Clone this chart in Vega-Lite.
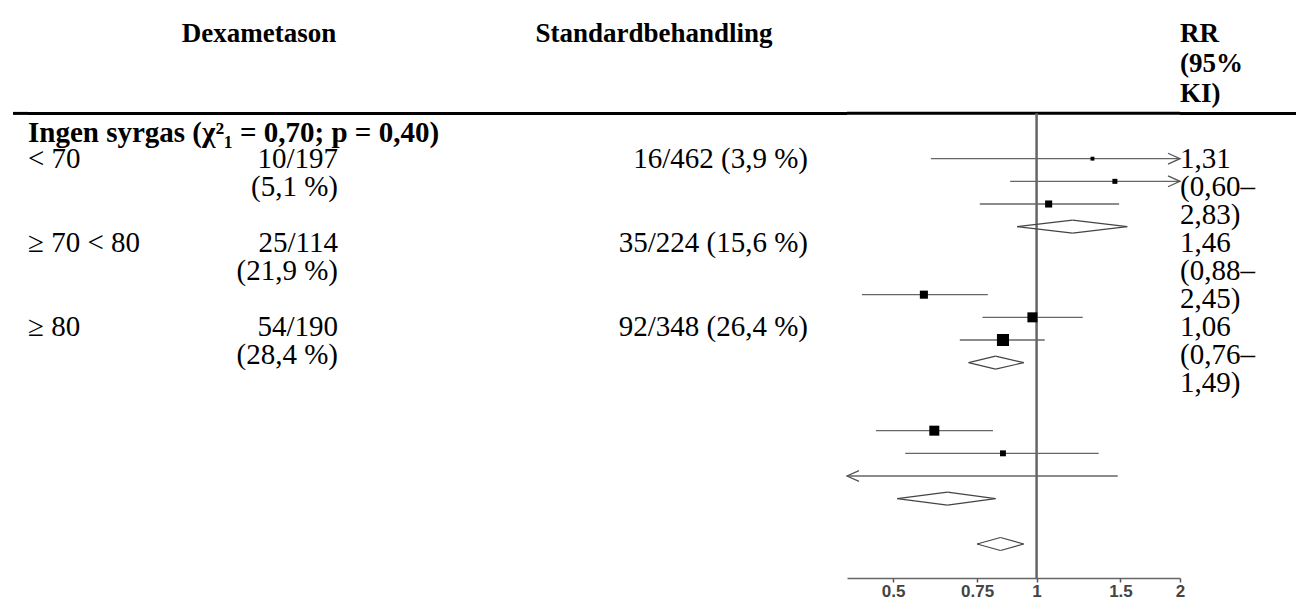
{
  "$schema": "https://vega.github.io/schema/vega-lite/v6.json",
  "padding": {"left": 11, "top": 0, "right": 0, "bottom": 0},
  "bounds": "flush",
  "spacing": 0,
  "config": {
    "view": {"stroke": null},
    "axisY": {"disable": true},
    "axis": {"labelFont": "Liberation Sans", "labelFontSize": 17, "labelFontWeight": "bold", "labelColor": "#444"},
    "text": {"font": "Liberation Serif", "fontSize": 29, "color": "#000", "lineHeight": 28, "baseline": "alphabetic"}
  },
  "datasets": {
    "rule": [{"item": "header rule"}],
    "header": [
      {"col": "dex", "text": "Dexametason"},
      {"col": "std", "text": "Standardbehandling"},
      {"col": "rr", "text": "RR\n(95%\nKI)"}
    ],
    "groups": [{"text": "Ingen syrgas (χ²₁ = 0,70; p = 0,40)", "line": -0.92}],
    "rows": [
      {"line": 0, "age": "< 70", "dex": "10/197\n(5,1 %)", "std": "16/462 (3,9 %)", "rr": "1,31\n(0,60–\n2,83)"},
      {"line": 3, "age": "≥ 70 < 80", "dex": "25/114\n(21,9 %)", "std": "35/224 (15,6 %)", "rr": "1,46\n(0,88–\n2,45)"},
      {"line": 6, "age": "≥ 80", "dex": "54/190\n(28,4 %)", "std": "92/348 (26,4 %)", "rr": "1,06\n(0,76–\n1,49)"}
    ],
    "forest": [
      {"row": 1, "type": "study", "est": 1.31, "lo": 0.60, "hi": 2.83, "w": 3},
      {"row": 2, "type": "study", "est": 1.46, "lo": 0.88, "hi": 2.45, "w": 5},
      {"row": 3, "type": "study", "est": 1.06, "lo": 0.76, "hi": 1.49, "w": 10},
      {"row": 4, "type": "diamond", "est": 1.19, "lo": 0.91, "hi": 1.55},
      {"row": 7, "type": "study", "est": 0.58, "lo": 0.43, "hi": 0.79, "w": 13},
      {"row": 8, "type": "study", "est": 0.98, "lo": 0.77, "hi": 1.25, "w": 20},
      {"row": 9, "type": "study", "est": 0.85, "lo": 0.69, "hi": 1.04, "w": 29},
      {"row": 10, "type": "diamond", "est": 0.82, "lo": 0.72, "hi": 0.94},
      {"row": 13, "type": "study", "est": 0.61, "lo": 0.46, "hi": 0.81, "w": 20},
      {"row": 14, "type": "study", "est": 0.85, "lo": 0.53, "hi": 1.35, "w": 7},
      {"row": 15, "type": "study", "est": 0.30, "lo": 0.10, "hi": 1.48, "w": 2},
      {"row": 16, "type": "diamond", "est": 0.65, "lo": 0.51, "hi": 0.82},
      {"row": 18, "type": "diamond", "est": 0.84, "lo": 0.75, "hi": 0.94}
    ]
  },
  "hconcat": [
    {
      "width": 15, "height": 602,
      "data": {"name": "rule"},
      "mark": {"type": "rule", "strokeWidth": 3, "color": "#000"},
      "encoding": {"y": {"datum": -1.95, "type": "quantitative", "scale": {"domain": [-6, 15.5], "reverse": true, "nice": false, "zero": false}}}
    },
    {
      "width": 152, "height": 602,
      "layer": [
        {
          "data": {"name": "rule"},
          "mark": {"type": "rule", "strokeWidth": 3, "color": "#000"},
          "encoding": {"y": {"datum": -1.95, "type": "quantitative", "scale": {"domain": [-6, 15.5], "reverse": true, "nice": false, "zero": false}}}
        },
        {
          "data": {"name": "groups"},
          "mark": {"type": "text", "align": "left", "fontWeight": "bold"},
          "encoding": {
            "x": {"value": 0},
            "y": {"field": "line", "type": "quantitative", "scale": {"domain": [-6, 15.5], "reverse": true, "nice": false, "zero": false}},
            "text": {"field": "text"}
          }
        },
        {
          "data": {"name": "rows"},
          "mark": {"type": "text", "align": "left"},
          "encoding": {
            "x": {"value": 0},
            "y": {"field": "line", "type": "quantitative", "scale": {"domain": [-6, 15.5], "reverse": true, "nice": false, "zero": false}},
            "text": {"field": "age"}
          }
        }
      ]
    },
    {
      "width": 158, "height": 602,
      "layer": [
        {
          "data": {"name": "rule"},
          "mark": {"type": "rule", "strokeWidth": 3, "color": "#000"},
          "encoding": {"y": {"datum": -1.95, "type": "quantitative", "scale": {"domain": [-6, 15.5], "reverse": true, "nice": false, "zero": false}}}
        },
        {
          "data": {"name": "header"},
          "transform": [{"filter": "datum.col === 'dex'"}],
          "mark": {"type": "text", "align": "center", "fontWeight": "bold", "fontSize": 27},
          "encoding": {
            "y": {"datum": -4.5, "type": "quantitative", "scale": {"domain": [-6, 15.5], "reverse": true, "nice": false, "zero": false}},
            "text": {"field": "text"}
          }
        },
        {
          "data": {"name": "rows"},
          "mark": {"type": "text", "align": "right", "lineBreak": "\n"},
          "encoding": {
            "x": {"value": "width"},
            "y": {"field": "line", "type": "quantitative", "scale": {"domain": [-6, 15.5], "reverse": true, "nice": false, "zero": false}},
            "text": {"field": "dex"}
          }
        }
      ]
    },
    {
      "width": 162, "height": 602,
      "data": {"name": "rule"},
      "mark": {"type": "rule", "strokeWidth": 3, "color": "#000"},
      "encoding": {"y": {"datum": -1.95, "type": "quantitative", "scale": {"domain": [-6, 15.5], "reverse": true, "nice": false, "zero": false}}}
    },
    {
      "width": 308, "height": 602,
      "layer": [
        {
          "data": {"name": "rule"},
          "mark": {"type": "rule", "strokeWidth": 3, "color": "#000"},
          "encoding": {"y": {"datum": -1.95, "type": "quantitative", "scale": {"domain": [-6, 15.5], "reverse": true, "nice": false, "zero": false}}}
        },
        {
          "data": {"name": "header"},
          "transform": [{"filter": "datum.col === 'std'"}],
          "mark": {"type": "text", "align": "center", "fontWeight": "bold", "fontSize": 27},
          "encoding": {
            "y": {"datum": -4.5, "type": "quantitative", "scale": {"domain": [-6, 15.5], "reverse": true, "nice": false, "zero": false}},
            "text": {"field": "text"}
          }
        },
        {
          "data": {"name": "rows"},
          "mark": {"type": "text", "align": "right", "lineBreak": "\n"},
          "encoding": {
            "x": {"value": "width"},
            "y": {"field": "line", "type": "quantitative", "scale": {"domain": [-6, 15.5], "reverse": true, "nice": false, "zero": false}},
            "text": {"field": "std"}
          }
        }
      ]
    },
    {
      "width": 39, "height": 602,
      "data": {"name": "rule"},
      "mark": {"type": "rule", "strokeWidth": 3, "color": "#000"},
      "encoding": {"y": {"datum": -1.95, "type": "quantitative", "scale": {"domain": [-6, 15.5], "reverse": true, "nice": false, "zero": false}}}
    },
    {
      "width": 333, "height": 578,
      "data": {"name": "forest"},
      "resolve": {"scale": {"yOffset": "independent"}},
      "layer": [
        {
          "data": {"name": "rule"},
          "mark": {"type": "rule", "strokeWidth": 3, "color": "#000"},
          "encoding": {"y": {"datum": -1, "type": "ordinal", "scale": {"type": "point", "domain": [-6,-5,-4,-3,-2,-1,0,1,2,3,4,5,6,7,8,9,10,11,12,13,14,15,16,17,18,19], "padding": 0.25, "align": 0}}}
        },
        {
          "data": {"name": "rule"},
          "mark": {"type": "rule", "strokeWidth": 2.5, "color": "#666"},
          "encoding": {
            "x": {"datum": 1, "type": "quantitative", "title": null, "scale": {"type": "log", "domain": [0.4, 2], "clamp": true, "nice": false}},
            "y": {"datum": -1, "type": "ordinal", "scale": {"type": "point", "domain": [-6,-5,-4,-3,-2,-1,0,1,2,3,4,5,6,7,8,9,10,11,12,13,14,15,16,17,18,19], "padding": 0.25, "align": 0}},
            "y2": {"value": "height"}
          }
        },
        {
          "transform": [{"filter": "datum.type === 'study'"}],
          "mark": {"type": "rule", "color": "#666", "strokeWidth": 1.4},
          "encoding": {
            "x": {"field": "lo", "type": "quantitative", "title": null, "scale": {"type": "log", "domain": [0.4, 2], "clamp": true, "nice": false},
              "axis": {"title": null, "values": [0.5, 0.75, 1, 1.5, 2], "format": "~g", "domainColor": "#666", "domainWidth": 1.6, "tickColor": "#555", "tickSize": 4, "tickWidth": 1.5, "labelFont": "Liberation Sans", "labelFontSize": 17, "labelFontWeight": "bold", "labelColor": "#444", "labelPadding": 1, "grid": false, "labelFlush": false, "labelOverlap": false}},
            "x2": {"field": "hi"},
            "y": {"field": "row", "type": "ordinal", "scale": {"type": "point", "domain": [-6,-5,-4,-3,-2,-1,0,1,2,3,4,5,6,7,8,9,10,11,12,13,14,15,16,17,18,19], "padding": 0.25, "align": 0}}
          }
        },
        {
          "transform": [{"filter": "datum.type === 'study' && datum.est >= 0.4 && datum.est <= 2"}],
          "mark": {"type": "point", "shape": "square", "filled": true, "color": "#000", "opacity": 1},
          "encoding": {
            "x": {"field": "est", "type": "quantitative", "title": null},
            "y": {"field": "row", "type": "ordinal"},
            "size": {"field": "w", "type": "quantitative", "scale": {"domain": [0, 30], "range": [0, 150]}, "legend": null}
          }
        },
        {
          "transform": [{"filter": "datum.type === 'study' && datum.hi > 2"}],
          "mark": {"type": "point", "shape": "M-1,-0.45L0,0L-1,0.45", "filled": false, "color": "#555", "strokeWidth": 1.3, "size": 576, "opacity": 1},
          "encoding": {
            "x": {"field": "hi", "type": "quantitative", "title": null},
            "y": {"field": "row", "type": "ordinal"}
          }
        },
        {
          "transform": [{"filter": "datum.type === 'study' && datum.lo < 0.4"}],
          "mark": {"type": "point", "shape": "M1,-0.45L0,0L1,0.45", "filled": false, "color": "#555", "strokeWidth": 1.3, "size": 576, "opacity": 1},
          "encoding": {
            "x": {"field": "lo", "type": "quantitative", "title": null},
            "y": {"field": "row", "type": "ordinal"}
          }
        },
        {
          "transform": [{"filter": "datum.type === 'diamond'"}, {"fold": ["lo", "est"]}],
          "mark": {"type": "line", "color": "#444", "strokeWidth": 1.2},
          "encoding": {
            "x": {"field": "value", "type": "quantitative", "title": null},
            "y": {"field": "row", "type": "ordinal"},
            "yOffset": {"field": "key", "type": "nominal", "scale": {"type": "point", "domain": ["lo", "est"], "range": [0, -6.5], "padding": 0}},
            "detail": {"field": "row", "type": "ordinal"}
          }
        },
        {
          "transform": [{"filter": "datum.type === 'diamond'"}, {"fold": ["hi", "est"]}],
          "mark": {"type": "line", "color": "#444", "strokeWidth": 1.2},
          "encoding": {
            "x": {"field": "value", "type": "quantitative", "title": null},
            "y": {"field": "row", "type": "ordinal"},
            "yOffset": {"field": "key", "type": "nominal", "scale": {"type": "point", "domain": ["hi", "est"], "range": [0, -6.5], "padding": 0}},
            "detail": {"field": "row", "type": "ordinal"}
          }
        },
        {
          "transform": [{"filter": "datum.type === 'diamond'"}, {"fold": ["lo", "est"]}],
          "mark": {"type": "line", "color": "#444", "strokeWidth": 1.2},
          "encoding": {
            "x": {"field": "value", "type": "quantitative", "title": null},
            "y": {"field": "row", "type": "ordinal"},
            "yOffset": {"field": "key", "type": "nominal", "scale": {"type": "point", "domain": ["lo", "est"], "range": [0, 6.5], "padding": 0}},
            "detail": {"field": "row", "type": "ordinal"}
          }
        },
        {
          "transform": [{"filter": "datum.type === 'diamond'"}, {"fold": ["hi", "est"]}],
          "mark": {"type": "line", "color": "#444", "strokeWidth": 1.2},
          "encoding": {
            "x": {"field": "value", "type": "quantitative", "title": null},
            "y": {"field": "row", "type": "ordinal"},
            "yOffset": {"field": "key", "type": "nominal", "scale": {"type": "point", "domain": ["hi", "est"], "range": [0, 6.5], "padding": 0}},
            "detail": {"field": "row", "type": "ordinal"}
          }
        }
      ]
    },
    {
      "width": 118, "height": 602,
      "layer": [
        {
          "data": {"name": "rule"},
          "mark": {"type": "rule", "strokeWidth": 3, "color": "#000"},
          "encoding": {"y": {"datum": -1.95, "type": "quantitative", "scale": {"domain": [-6, 15.5], "reverse": true, "nice": false, "zero": false}}}
        },
        {
          "data": {"name": "header"},
          "transform": [{"filter": "datum.col === 'rr'"}],
          "mark": {"type": "text", "align": "left", "fontWeight": "bold", "lineBreak": "\n", "lineHeight": 30, "fontSize": 27},
          "encoding": {
            "x": {"value": 0},
            "y": {"datum": -4.5, "type": "quantitative", "scale": {"domain": [-6, 15.5], "reverse": true, "nice": false, "zero": false}},
            "text": {"field": "text"}
          }
        },
        {
          "data": {"name": "rows"},
          "mark": {"type": "text", "align": "left", "lineBreak": "\n"},
          "encoding": {
            "x": {"value": 0},
            "y": {"field": "line", "type": "quantitative", "scale": {"domain": [-6, 15.5], "reverse": true, "nice": false, "zero": false}},
            "text": {"field": "rr"}
          }
        }
      ]
    }
  ]
}
